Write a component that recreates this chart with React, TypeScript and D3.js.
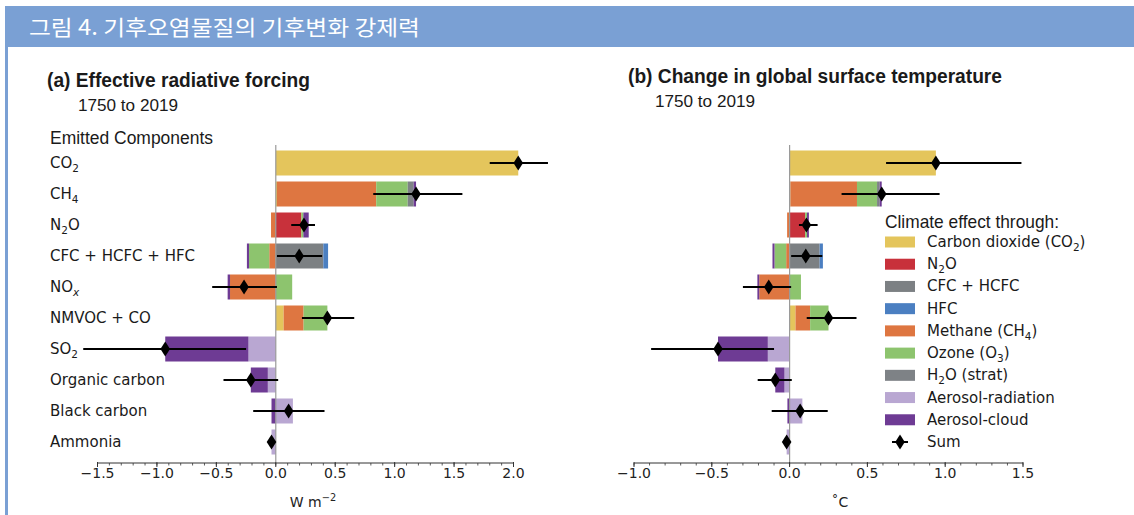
import React from 'react';
import * as d3 from 'd3';

// Emitted components (rows, top to bottom)
const emitters = [
  'CO_{2}', 'CH_{4}', 'N_{2}O', 'CFC + HCFC + HFC', 'NO_{x}',
  'NMVOC + CO', 'SO_{2}', 'Organic carbon', 'Black carbon', 'Ammonia',
];

// Climate effect pathways (stack order)
const effectKeys = ['co2', 'n2o', 'cfc', 'hfc', 'ch4', 'o3', 'h2o', 'aerRad', 'aerCloud'];
const effectLabels = [
  'Carbon dioxide (CO_{2})', 'N_{2}O', 'CFC + HCFC', 'HFC', 'Methane (CH_{4})',
  'Ozone (O_{3})', 'H_{2}O (strat)', 'Aerosol-radiation', 'Aerosol-cloud',
];
const effectColors = [
  '#e4c55c', '#c8313b', '#7c8083', '#4b7fc1', '#de7641',
  '#8dc46e', '#7e8286', '#b9a7d2', '#6e3b94',
];

// (a) Effective radiative forcing, W m-2
const erfCo2 = [2.04, 0.01, 0, 0, 0, 0.066, 0, 0, 0, 0];
const erfN2o = [0, 0, 0.215, 0, 0, 0, 0, 0, 0, 0];
const erfCfc = [0, 0, 0, 0.4, 0, 0, 0, 0, 0, 0];
const erfHfc = [0, 0, 0, 0.04, 0, 0, 0, 0, 0, 0];
const erfCh4 = [0, 0.835, -0.04, -0.055, -0.385, 0.168, 0, 0, 0, 0];
const erfO3 = [0, 0.265, 0.017, -0.17, 0.138, 0.2, 0, 0, 0, 0];
const erfH2o = [0, 0.05, 0, 0, 0, 0, 0, 0, 0, 0];
const erfAerRad = [0, 0, 0, 0, 0, 0, -0.23, -0.067, 0.144, -0.036];
const erfAerCloud = [0, 0.02, 0.045, -0.018, -0.02, 0, -0.7, -0.143, -0.036, 0];
const erfLow = [1.8, 0.82, 0.13, 0.01, -0.535, 0.22, -1.62, -0.44, -0.19, -0.05];
const erfHigh = [2.29, 1.57, 0.33, 0.39, 0.01, 0.66, -0.25, 0.02, 0.41, -0.015];

// (b) Change in global surface temperature, °C
const gsatCo2 = [0.94, 0.005, 0, 0, 0, 0.038, 0, 0, 0, 0];
const gsatN2o = [0, 0, 0.1, 0, 0, 0, 0, 0, 0, 0];
const gsatCfc = [0, 0, 0, 0.193, 0, 0, 0, 0, 0, 0];
const gsatHfc = [0, 0, 0, 0.021, 0, 0, 0, 0, 0, 0];
const gsatCh4 = [0, 0.428, -0.016, -0.022, -0.195, 0.094, 0, 0, 0, 0];
const gsatO3 = [0, 0.129, 0.012, -0.075, 0.073, 0.118, 0, 0, 0, 0];
const gsatH2o = [0, 0.017, 0, 0, 0, 0, 0, 0, 0, 0];
const gsatAerRad = [0, 0, 0, 0, 0, 0, -0.14, -0.033, 0.082, -0.019];
const gsatAerCloud = [0, 0.013, 0.012, -0.013, -0.012, 0, -0.32, -0.059, -0.014, 0];
const gsatLow = [0.62, 0.334, 0.06, 0.01, -0.3, 0.11, -0.89, -0.205, -0.115, -0.03];
const gsatHigh = [1.49, 0.964, 0.18, 0.21, 0.01, 0.43, -0.1, 0.014, 0.245, -0.008];

const ticksA = [-1.5, -1.0, -0.5, 0.0, 0.5, 1.0, 1.5, 2.0];
const ticksB = [-1.0, -0.5, 0.0, 0.5, 1.0, 1.5];

type Row = { [k: string]: number | string };

function buildRows(cols: number[][]): Row[] {
  return emitters.map((name, i) => {
    const r: Row = { name };
    effectKeys.forEach((k, j) => { r[k] = cols[j][i]; });
    return r;
  });
}

const rowsA = buildRows([erfCo2, erfN2o, erfCfc, erfHfc, erfCh4, erfO3, erfH2o, erfAerRad, erfAerCloud]);
const rowsB = buildRows([gsatCo2, gsatN2o, gsatCfc, gsatHfc, gsatCh4, gsatO3, gsatH2o, gsatAerRad, gsatAerCloud]);

const LABEL_FONT = '"DejaVu Sans", sans-serif';
const HEAD_FONT = '"Liberation Sans", Arial, sans-serif';

// Text with _{sub} and ^{sup} markup
function rich(str: string, size: number) {
  const parts: { t: string; kind: string }[] = [];
  const re = /([_^])\{([^}]*)\}/g;
  let last = 0;
  let m: RegExpExecArray | null;
  while ((m = re.exec(str))) {
    if (m.index > last) parts.push({ t: str.slice(last, m.index), kind: 'n' });
    parts.push({ t: m[2], kind: m[1] === '_' ? 'sub' : 'sup' });
    last = re.lastIndex;
  }
  if (last < str.length) parts.push({ t: str.slice(last), kind: 'n' });
  let cur = 0;
  return parts.map((p, i) => {
    const target = p.kind === 'sub' ? 0.25 * size : p.kind === 'sup' ? -0.42 * size : 0;
    const dy = target - cur;
    cur = target;
    return (
      <tspan
        key={i}
        dy={dy}
        fontSize={p.kind === 'n' ? undefined : size * 0.7}
        fontStyle={p.t === 'x' ? 'italic' : undefined}
      >
        {p.t}
      </tspan>
    );
  });
}

const yBand = d3.scaleBand<string>()
  .domain(emitters)
  .range([147.5, 457.5])
  .paddingInner(0.1935)
  .paddingOuter(0.0968);

const AXIS_Y = 463;
const diamond = 'M0,-7.5L4.8,0L0,7.5L-4.8,0Z';

function Panel({ rows, x, low, high, ticks, unit, unitX }: {
  rows: Row[]; x: d3.ScaleLinear<number, number>; low: number[]; high: number[];
  ticks: number[]; unit: string; unitX: number;
}) {
  const series = d3.stack<Row>()
    .keys(effectKeys)
    .value((d, k) => d[k] as number)
    .offset(d3.stackOffsetDiverging)(rows);
  const [d0, d1] = x.domain();
  const minor = d3.range(Math.round(d0 * 10), Math.round(d1 * 10) + 1).map((v) => v / 10);
  const sums = rows.map((r) => d3.sum(effectKeys, (k) => r[k] as number));
  const fmt = (v: number) => (v < 0 ? '\u2212' : '') + Math.abs(v).toFixed(1);
  return (
    <g>
      {series.map((s, j) => (
        <g key={s.key} fill={effectColors[j]}>
          {s.map((seg, i) => {
            const a = x(Math.min(seg[0], seg[1]));
            const b = x(Math.max(seg[0], seg[1]));
            if (b - a <= 0) return null;
            return (
              <rect key={i} x={a} width={b - a}
                y={yBand(emitters[i])!} height={yBand.bandwidth()} />
            );
          })}
        </g>
      ))}
      <line x1={x(0)} x2={x(0)} y1={145} y2={AXIS_Y - 1} stroke="#9a9a9a" strokeWidth={1.2} />
      {rows.map((_, i) => {
        const cy = yBand(emitters[i])! + yBand.bandwidth() / 2;
        return (
          <g key={i}>
            <line x1={x(low[i])} x2={x(high[i])} y1={cy} y2={cy} stroke="#000" strokeWidth={2} />
            <path d={diamond} transform={`translate(${x(sums[i])},${cy})`} fill="#000" />
          </g>
        );
      })}
      <line x1={x(d0)} x2={x(d1)} y1={AXIS_Y} y2={AXIS_Y} stroke="#333" strokeWidth={1} />
      {minor.map((v) => (
        <line key={'m' + v} x1={x(v)} x2={x(v)} y1={AXIS_Y} y2={AXIS_Y + 2.5} stroke="#333" strokeWidth={0.8} />
      ))}
      {ticks.map((v) => (
        <g key={v}>
          <line x1={x(v)} x2={x(v)} y1={AXIS_Y - 1} y2={AXIS_Y + 4} stroke="#333" strokeWidth={1} />
          <text x={x(v)} y={AXIS_Y + 15} textAnchor="middle" fontFamily={LABEL_FONT}
            fontSize={14} fill="#222">{fmt(v)}</text>
        </g>
      ))}
      <text x={unitX} y={AXIS_Y + 44} textAnchor="middle"
        fontFamily={LABEL_FONT} fontSize={14} fill="#222">{rich(unit, 14)}</text>
    </g>
  );
}

export default function App() {
  const xA = d3.scaleLinear().domain([-1.5, 2]).range([97.5, 513.5]);
  const xB = d3.scaleLinear().domain([-1, 1.5]).range([634, 1023]);
  const legendY = d3.scalePoint<string>()
    .domain([...effectLabels, 'Sum'])
    .range([242, 442]);
  return (
    <svg width={1134} height={515} viewBox="0 0 1134 515"
      style={{ position: 'absolute', left: 0, top: 0, background: '#fff' }}>
      <rect x={0} y={0} width={1134} height={515} fill="#fff" />
      {/* header band */}
      <rect x={5} y={6} width={1129} height={41} fill="#7aa0d4" />
      <rect x={5} y={47} width={3} height={468} fill="#7aa0d4" />
      <text x={29} y={35} fill="#fff" fontFamily='"Noto Sans CJK KR", sans-serif'
        fontSize={21} textLength={391} lengthAdjust="spacingAndGlyphs">
        그림 4. 기후오염물질의 기후변화 강제력
      </text>

      {/* panel titles */}
      <text x={47} y={87} fontFamily={HEAD_FONT} fontWeight="bold" fontSize={20} fill="#1a1a1a"
        textLength={263} lengthAdjust="spacingAndGlyphs">(a) Effective radiative forcing</text>
      <text x={78} y={111} fontFamily={HEAD_FONT} fontSize={17} fill="#1a1a1a"
        textLength={100} lengthAdjust="spacingAndGlyphs">1750 to 2019</text>
      <text x={628} y={83} fontFamily={HEAD_FONT} fontWeight="bold" fontSize={20} fill="#1a1a1a"
        textLength={374} lengthAdjust="spacingAndGlyphs">(b) Change in global surface temperature</text>
      <text x={655} y={107} fontFamily={HEAD_FONT} fontSize={17} fill="#1a1a1a"
        textLength={100} lengthAdjust="spacingAndGlyphs">1750 to 2019</text>
      <text x={50} y={144} fontFamily={HEAD_FONT} fontSize={18} fill="#1a1a1a"
        textLength={163} lengthAdjust="spacingAndGlyphs">Emitted Components</text>

      {/* row labels */}
      {emitters.map((e) => (
        <text key={e} x={50} y={yBand(e)! + yBand.bandwidth() / 2 + 5}
          fontFamily={LABEL_FONT} fontSize={15} fill="#1a1a1a">{rich(e, 15)}</text>
      ))}

      <Panel rows={rowsA} x={xA} low={erfLow} high={erfHigh} ticks={ticksA}
        unit={'W m^{\u22122}'} unitX={313} />
      <Panel rows={rowsB} x={xB} low={gsatLow} high={gsatHigh} ticks={ticksB}
        unit={'\u02DAC'} unitX={840} />

      {/* legend */}
      <text x={885} y={228} fontFamily={HEAD_FONT} fontSize={19} fill="#1a1a1a"
        textLength={174} lengthAdjust="spacingAndGlyphs">Climate effect through:</text>
      {effectLabels.map((l, j) => (
        <g key={l} transform={`translate(885,${legendY(l)})`}>
          <rect x={0} y={-5.5} width={30} height={11} fill={effectColors[j]} />
          <text x={42} y={5} fontFamily={LABEL_FONT} fontSize={15} fill="#1a1a1a">{rich(l, 15)}</text>
        </g>
      ))}
      <g transform={`translate(885,${legendY('Sum')})`}>
        <line x1={7} x2={23} y1={0} y2={0} stroke="#000" strokeWidth={2} />
        <path d={diamond} transform="translate(15,0)" fill="#000" />
        <text x={42} y={5} fontFamily={LABEL_FONT} fontSize={15} fill="#1a1a1a">Sum</text>
      </g>
    </svg>
  );
}
